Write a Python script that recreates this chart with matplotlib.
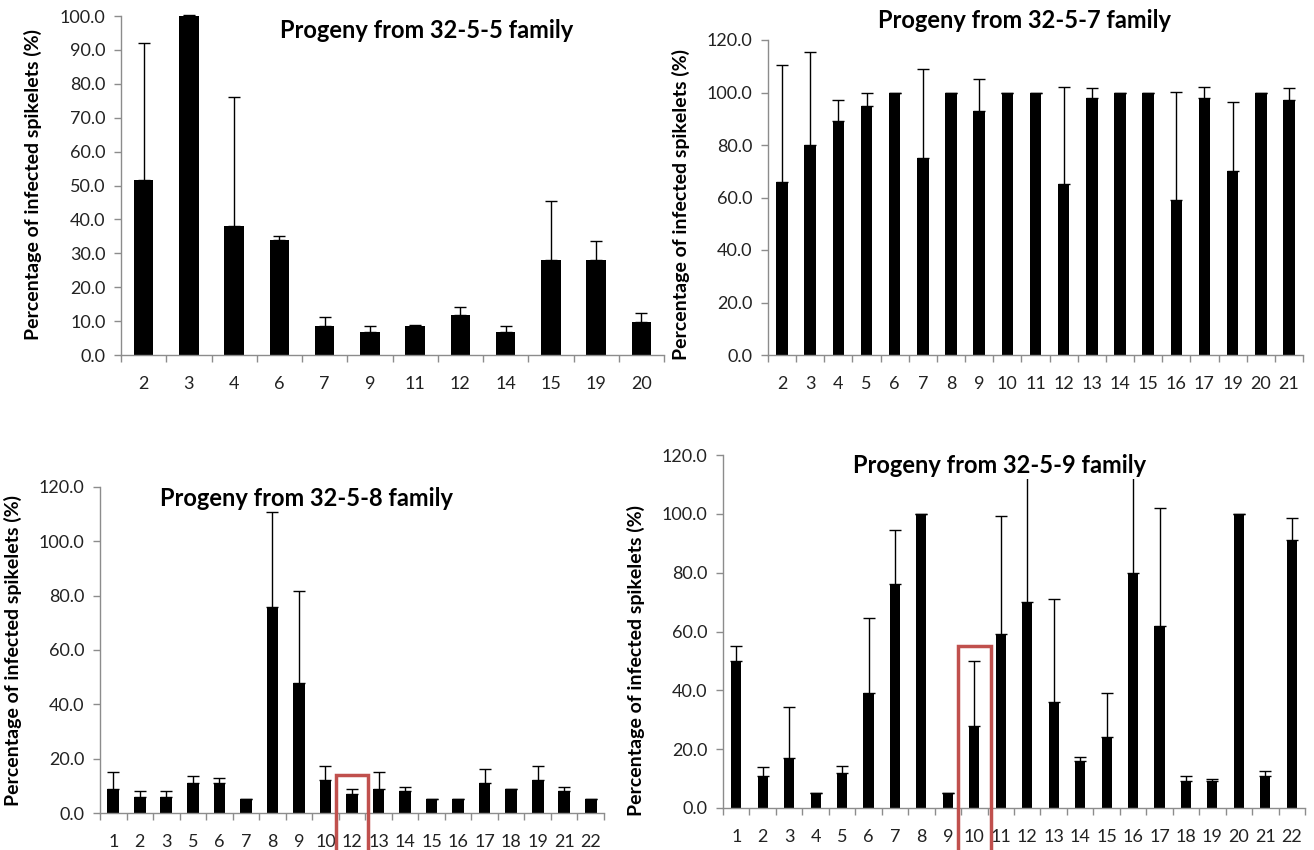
import matplotlib
matplotlib.use("Agg")
import matplotlib.pyplot as plt
from matplotlib.patches import Rectangle
import numpy as np

plt.rcParams['font.family'] = ['Lato', 'DejaVu Sans']

# ---------------- data ----------------
a_labels = ["2", "3", "4", "6", "7", "9", "11", "12", "14", "15", "19", "20"]
a_values = [51.7, 100.0, 38.0, 34.0, 8.7, 6.9, 8.7, 11.7, 6.9, 28.0, 28.0, 9.8]
a_err_top = [92.0, 100.2, 76.0, 35.0, 11.2, 8.6, 8.9, 14.3, 8.6, 45.3, 33.5, 12.3]

b_labels = ["2", "3", "4", "5", "6", "7", "8", "9", "10", "11", "12", "13", "14",
            "15", "16", "17", "19", "20", "21"]
b_values = [66.0, 80.0, 89.0, 95.0, 100.0, 75.0, 100.0, 93.0, 100.0, 100.0, 65.0,
            98.0, 100.0, 100.0, 59.0, 98.0, 70.0, 100.0, 97.0]
b_err_top = [110.3, 115.6, 97.0, 99.7, 100.0, 109.0, 100.0, 105.0, 100.0, 100.0, 102.0,
             101.6, 100.0, 100.0, 100.1, 102.0, 96.2, 100.0, 101.6]

c_labels = ["1", "2", "3", "5", "6", "7", "8", "9", "10", "12", "13", "14", "15",
            "16", "17", "18", "19", "21", "22"]
c_values = [9.0, 6.0, 6.0, 11.0, 11.0, 5.0, 76.0, 48.0, 12.0, 7.0, 9.0, 8.0, 5.0,
            5.0, 11.0, 9.0, 12.0, 8.0, 5.0]
c_err_top = [15.0, 8.0, 8.0, 13.5, 13.0, 5.0, 110.7, 81.7, 17.3, 8.8, 15.0, 9.7, 5.0,
             5.0, 16.3, 9.0, 17.3, 9.7, 5.0]

d_labels = ["1", "2", "3", "4", "5", "6", "7", "8", "9", "10", "11", "12", "13",
            "14", "15", "16", "17", "18", "19", "20", "21", "22"]
d_values = [50.0, 11.0, 17.0, 5.0, 12.0, 39.0, 76.0, 100.0, 5.0, 28.0, 59.0, 70.0,
            36.0, 16.0, 24.0, 80.0, 62.0, 9.3, 9.3, 100.0, 11.0, 91.0]
d_err_top = [55.0, 13.9, 34.2, 5.0, 14.2, 64.6, 94.5, 100.0, 5.0, 49.9, 99.2, 130.0,
             71.1, 17.4, 39.0, 132.0, 101.9, 10.8, 9.9, 100.0, 12.7, 98.5]

titles = ["Progeny from 32-5-5 family", "Progeny from 32-5-7 family",
          "Progeny from 32-5-8 family", "Progeny from 32-5-9 family"]
ylabel = "Percentage of infected spikelets (%)"

a_ticks = np.arange(0, 100.1, 10)
bcd_ticks = np.arange(0, 120.1, 20)

highlight_c = "12"
highlight_d = "10"

# ---------------- figure ----------------
W, H = 1314, 850
fig = plt.figure(figsize=(W / 100, H / 100), dpi=100)
fig.patch.set_facecolor("white")

TITLE_FS = 17
TICK_FS = 13
YLAB_FS = 14


def px_axes(l, r, t, b):
    return fig.add_axes([l / W, 1 - b / H, (r - l) / W, (b - t) / H])


def draw(ax, labels, values, tops, ymax, ticks, width):
    n = len(labels)
    x = np.arange(n)
    vals = np.array(values)
    up = np.array(tops) - vals
    ax.bar(x, vals, width=width, color="black", zorder=2, clip_on=False)
    eb = ax.errorbar(x, vals, yerr=[np.zeros(n), up], fmt="none", ecolor="black",
                     elinewidth=1.0, capsize=4, capthick=1.0, zorder=3)
    ax.set_xlim(-0.5, n - 0.5)
    ax.set_ylim(0, ymax)
    ax.set_yticks(ticks)
    ax.set_yticklabels([f"{t:.1f}" for t in ticks])
    ax.set_xticks(x)
    ax.set_xticklabels(labels)
    ax.set_xticks(np.arange(-0.5, n, 1.0), minor=True)
    ax.tick_params(axis="x", which="major", length=0, pad=15, labelsize=TICK_FS,
                   labelcolor="#222222")
    ax.tick_params(axis="x", which="minor", length=5, width=1, color="#8c8c8c",
                   direction="out")
    ax.tick_params(axis="y", length=5, width=1, color="#8c8c8c", labelsize=TICK_FS,
                   labelcolor="#222222", pad=6)
    for s in ["top", "right"]:
        ax.spines[s].set_visible(False)
    for s in ["left", "bottom"]:
        ax.spines[s].set_color("#8c8c8c")
        ax.spines[s].set_linewidth(1)
    ax.set_ylabel(ylabel, fontsize=YLAB_FS, fontweight="bold")
    return eb


axA = px_axes(121, 664, 16, 355)
ebA = draw(axA, a_labels, a_values, a_err_top, 100, a_ticks, 0.43)
for art in ebA.lines[1] + ebA.lines[2]:
    art.set_clip_on(False)
axA.text(427 / W, 1 - 30 / H, titles[0], transform=fig.transFigure, ha="center",
         va="center", fontsize=TITLE_FS, fontweight="bold")
axA.yaxis.set_label_coords(42 / W, 1 - 185 / H, transform=fig.transFigure)

axB = px_axes(768, 1303, 40, 355)
draw(axB, b_labels, b_values, b_err_top, 120, bcd_ticks, 0.41)
axB.text(1024 / W, 1 - 20 / H, titles[1], transform=fig.transFigure, ha="center",
         va="center", fontsize=TITLE_FS, fontweight="bold")
axB.yaxis.set_label_coords(690 / W, 1 - 205 / H, transform=fig.transFigure)

axC = px_axes(100, 604, 487, 813)
draw(axC, c_labels, c_values, c_err_top, 120, bcd_ticks, 0.44)
axC.text(306 / W, 1 - 498 / H, titles[2], transform=fig.transFigure, ha="center",
         va="center", fontsize=TITLE_FS, fontweight="bold")
axC.yaxis.set_label_coords(22 / W, 1 - 650 / H, transform=fig.transFigure)

axD = px_axes(723, 1305, 455, 808)
draw(axD, d_labels, d_values, d_err_top, 120, bcd_ticks, 0.38)
axD.text(1000 / W, 1 - 465 / H, titles[3], transform=fig.transFigure, ha="center",
         va="center", fontsize=TITLE_FS, fontweight="bold", zorder=10,
         bbox=dict(facecolor="white", edgecolor="none", pad=1.5))
axD.yaxis.set_label_coords(645 / W, 1 - 660 / H, transform=fig.transFigure)

# red highlight boxes
ic = c_labels.index(highlight_c)
axC.add_patch(Rectangle((ic - 0.6, -25), 1.2, 39, fill=False, edgecolor="#c0504d",
                        linewidth=2.5, clip_on=False, zorder=5))
idd = d_labels.index(highlight_d)
axD.add_patch(Rectangle((idd - 0.62, -25), 1.24, 80, fill=False, edgecolor="#c0504d",
                        linewidth=2.5, clip_on=False, zorder=5))

fig.savefig("out.png", dpi=100, facecolor="white")
